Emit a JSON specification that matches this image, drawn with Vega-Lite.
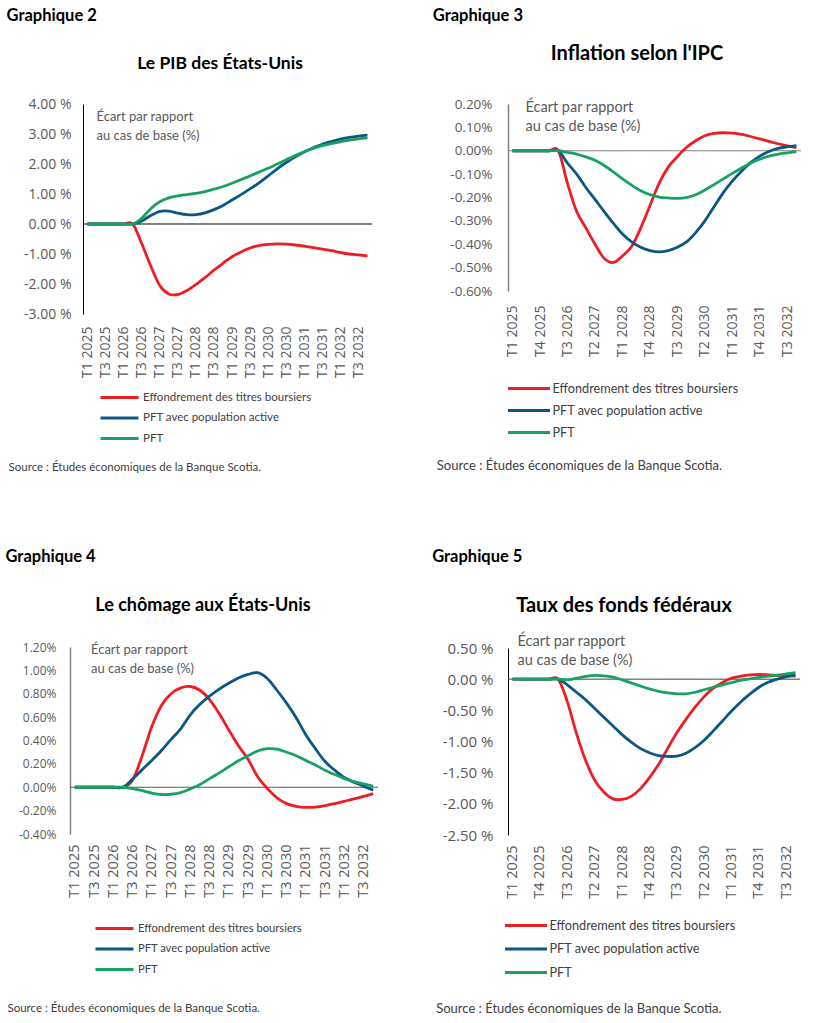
{
  "$schema": "https://vega.github.io/schema/vega-lite/v6.json",
  "background": "#ffffff",
  "padding": {"left": 5, "top": 7, "right": 5, "bottom": 5},
  "autosize": {"type": "pad"},
  "config": {
    "view": {"stroke": null},
    "font": "Lato",
    "axis": {"grid": false, "ticks": false, "labelFont": "Open Sans", "labelColor": "#595959", "domainColor": "#000000", "domainWidth": 1, "labelOverlap": false},
    "axisX": {"domain": false, "labelAngle": -90, "title": null},
    "axisY": {"titleAngle": 0, "titleAlign": "left", "titleBaseline": "top", "titleFont": "Lato", "titleFontWeight": "normal", "titleColor": "#595959", "titleLineHeight": 19, "labelOverlap": false},
    "legend": {"title": null, "labelFont": "Lato", "labelColor": "#404040", "labelOffset": 12, "labelLimit": 400},
    "title": {"font": "Lato", "color": "#000000"},
    "line": {"strokeWidth": 2.8, "interpolate": "cardinal"}
  },
  "datasets": {
    "pib": [
      {"q": "T1 2025", "a": 0, "b": 0, "c": 0},
      {"q": "T2 2025", "a": 0, "b": 0, "c": 0},
      {"q": "T3 2025", "a": 0, "b": 0, "c": 0},
      {"q": "T4 2025", "a": 0, "b": 0, "c": 0},
      {"q": "T1 2026", "a": 0, "b": 0, "c": 0},
      {"q": "T2 2026", "a": 0, "b": 0, "c": 0},
      {"q": "T3 2026", "a": -0.65, "b": 0.10, "c": 0.19},
      {"q": "T4 2026", "a": -1.40, "b": 0.28, "c": 0.51},
      {"q": "T1 2027", "a": -2.05, "b": 0.42, "c": 0.74},
      {"q": "T2 2027", "a": -2.33, "b": 0.43, "c": 0.87},
      {"q": "T3 2027", "a": -2.35, "b": 0.36, "c": 0.94},
      {"q": "T4 2027", "a": -2.22, "b": 0.31, "c": 0.98},
      {"q": "T1 2028", "a": -2.02, "b": 0.31, "c": 1.02},
      {"q": "T2 2028", "a": -1.79, "b": 0.37, "c": 1.08},
      {"q": "T3 2028", "a": -1.54, "b": 0.48, "c": 1.16},
      {"q": "T4 2028", "a": -1.31, "b": 0.62, "c": 1.25},
      {"q": "T1 2029", "a": -1.09, "b": 0.80, "c": 1.36},
      {"q": "T2 2029", "a": -0.93, "b": 0.98, "c": 1.48},
      {"q": "T3 2029", "a": -0.80, "b": 1.17, "c": 1.60},
      {"q": "T4 2029", "a": -0.72, "b": 1.37, "c": 1.73},
      {"q": "T1 2030", "a": -0.68, "b": 1.60, "c": 1.86},
      {"q": "T2 2030", "a": -0.66, "b": 1.84, "c": 2.00},
      {"q": "T3 2030", "a": -0.67, "b": 2.05, "c": 2.14},
      {"q": "T4 2030", "a": -0.70, "b": 2.24, "c": 2.28},
      {"q": "T1 2031", "a": -0.74, "b": 2.40, "c": 2.41},
      {"q": "T2 2031", "a": -0.79, "b": 2.54, "c": 2.52},
      {"q": "T3 2031", "a": -0.84, "b": 2.66, "c": 2.61},
      {"q": "T4 2031", "a": -0.89, "b": 2.75, "c": 2.68},
      {"q": "T1 2032", "a": -0.95, "b": 2.83, "c": 2.74},
      {"q": "T2 2032", "a": -1.00, "b": 2.89, "c": 2.80},
      {"q": "T3 2032", "a": -1.03, "b": 2.93, "c": 2.84},
      {"q": "T4 2032", "a": -1.06, "b": 2.96, "c": 2.87}
    ],
    "ipc": [
      {"q": "T1 2025", "a": 0, "b": 0, "c": 0},
      {"q": "T2 2025", "a": 0, "b": 0, "c": 0},
      {"q": "T3 2025", "a": 0, "b": 0, "c": 0},
      {"q": "T4 2025", "a": 0, "b": 0, "c": 0},
      {"q": "T1 2026", "a": 0, "b": 0, "c": 0},
      {"q": "T2 2026", "a": 0, "b": 0, "c": 0},
      {"q": "T3 2026", "a": -0.14, "b": -0.053, "c": -0.007},
      {"q": "T4 2026", "a": -0.26, "b": -0.10, "c": -0.014},
      {"q": "T1 2027", "a": -0.33, "b": -0.157, "c": -0.026},
      {"q": "T2 2027", "a": -0.40, "b": -0.208, "c": -0.041},
      {"q": "T3 2027", "a": -0.46, "b": -0.26, "c": -0.063},
      {"q": "T4 2027", "a": -0.478, "b": -0.31, "c": -0.09},
      {"q": "T1 2028", "a": -0.45, "b": -0.356, "c": -0.12},
      {"q": "T2 2028", "a": -0.41, "b": -0.39, "c": -0.147},
      {"q": "T3 2028", "a": -0.33, "b": -0.413, "c": -0.171},
      {"q": "T4 2028", "a": -0.235, "b": -0.427, "c": -0.188},
      {"q": "T1 2029", "a": -0.14, "b": -0.433, "c": -0.198},
      {"q": "T2 2029", "a": -0.07, "b": -0.427, "c": -0.202},
      {"q": "T3 2029", "a": -0.025, "b": -0.413, "c": -0.204},
      {"q": "T4 2029", "a": 0.015, "b": -0.39, "c": -0.200},
      {"q": "T1 2030", "a": 0.043, "b": -0.35, "c": -0.188},
      {"q": "T2 2030", "a": 0.064, "b": -0.30, "c": -0.168},
      {"q": "T3 2030", "a": 0.074, "b": -0.24, "c": -0.145},
      {"q": "T4 2030", "a": 0.077, "b": -0.18, "c": -0.121},
      {"q": "T1 2031", "a": 0.075, "b": -0.13, "c": -0.097},
      {"q": "T2 2031", "a": 0.070, "b": -0.088, "c": -0.074},
      {"q": "T3 2031", "a": 0.061, "b": -0.051, "c": -0.053},
      {"q": "T4 2031", "a": 0.051, "b": -0.023, "c": -0.036},
      {"q": "T1 2032", "a": 0.040, "b": -0.003, "c": -0.023},
      {"q": "T2 2032", "a": 0.030, "b": 0.010, "c": -0.014},
      {"q": "T3 2032", "a": 0.021, "b": 0.017, "c": -0.009},
      {"q": "T4 2032", "a": 0.013, "b": 0.022, "c": -0.004}
    ],
    "chomage": [
      {"q": "T1 2025", "a": 0, "b": 0, "c": 0},
      {"q": "T2 2025", "a": 0, "b": 0, "c": 0},
      {"q": "T3 2025", "a": 0, "b": 0, "c": 0},
      {"q": "T4 2025", "a": 0, "b": 0, "c": 0},
      {"q": "T1 2026", "a": 0, "b": 0, "c": 0},
      {"q": "T2 2026", "a": 0, "b": 0, "c": 0},
      {"q": "T3 2026", "a": 0.06, "b": 0.07, "c": -0.011},
      {"q": "T4 2026", "a": 0.27, "b": 0.15, "c": -0.029},
      {"q": "T1 2027", "a": 0.52, "b": 0.23, "c": -0.05},
      {"q": "T2 2027", "a": 0.70, "b": 0.315, "c": -0.062},
      {"q": "T3 2027", "a": 0.80, "b": 0.41, "c": -0.06},
      {"q": "T4 2027", "a": 0.85, "b": 0.50, "c": -0.046},
      {"q": "T1 2028", "a": 0.862, "b": 0.62, "c": -0.014},
      {"q": "T2 2028", "a": 0.83, "b": 0.71, "c": 0.023},
      {"q": "T3 2028", "a": 0.75, "b": 0.78, "c": 0.074},
      {"q": "T4 2028", "a": 0.63, "b": 0.84, "c": 0.123},
      {"q": "T1 2029", "a": 0.49, "b": 0.89, "c": 0.175},
      {"q": "T2 2029", "a": 0.355, "b": 0.935, "c": 0.226},
      {"q": "T3 2029", "a": 0.24, "b": 0.965, "c": 0.27},
      {"q": "T4 2029", "a": 0.09, "b": 0.98, "c": 0.31},
      {"q": "T1 2030", "a": -0.01, "b": 0.93, "c": 0.33},
      {"q": "T2 2030", "a": -0.09, "b": 0.83, "c": 0.326},
      {"q": "T3 2030", "a": -0.14, "b": 0.72, "c": 0.30},
      {"q": "T4 2030", "a": -0.163, "b": 0.595, "c": 0.27},
      {"q": "T1 2031", "a": -0.172, "b": 0.45, "c": 0.23},
      {"q": "T2 2031", "a": -0.17, "b": 0.33, "c": 0.19},
      {"q": "T3 2031", "a": -0.158, "b": 0.22, "c": 0.146},
      {"q": "T4 2031", "a": -0.14, "b": 0.146, "c": 0.109},
      {"q": "T1 2032", "a": -0.12, "b": 0.083, "c": 0.074},
      {"q": "T2 2032", "a": -0.10, "b": 0.043, "c": 0.049},
      {"q": "T3 2032", "a": -0.078, "b": 0.01, "c": 0.029},
      {"q": "T4 2032", "a": -0.055, "b": -0.025, "c": 0.009}
    ],
    "fed": [
      {"q": "T1 2025", "a": 0, "b": 0, "c": 0},
      {"q": "T2 2025", "a": 0, "b": 0, "c": 0},
      {"q": "T3 2025", "a": 0, "b": 0, "c": 0},
      {"q": "T4 2025", "a": 0, "b": 0, "c": 0},
      {"q": "T1 2026", "a": 0, "b": 0, "c": 0},
      {"q": "T2 2026", "a": 0, "b": 0, "c": 0},
      {"q": "T3 2026", "a": -0.36, "b": -0.09, "c": -0.01},
      {"q": "T4 2026", "a": -0.87, "b": -0.21, "c": 0.016},
      {"q": "T1 2027", "a": -1.30, "b": -0.33, "c": 0.043},
      {"q": "T2 2027", "a": -1.62, "b": -0.47, "c": 0.06},
      {"q": "T3 2027", "a": -1.81, "b": -0.61, "c": 0.054},
      {"q": "T4 2027", "a": -1.92, "b": -0.75, "c": 0.032},
      {"q": "T1 2028", "a": -1.93, "b": -0.89, "c": -0.01},
      {"q": "T2 2028", "a": -1.88, "b": -1.01, "c": -0.06},
      {"q": "T3 2028", "a": -1.76, "b": -1.11, "c": -0.11},
      {"q": "T4 2028", "a": -1.58, "b": -1.18, "c": -0.155},
      {"q": "T1 2029", "a": -1.37, "b": -1.225, "c": -0.195},
      {"q": "T2 2029", "a": -1.11, "b": -1.24, "c": -0.22},
      {"q": "T3 2029", "a": -0.86, "b": -1.235, "c": -0.235},
      {"q": "T4 2029", "a": -0.645, "b": -1.19, "c": -0.235},
      {"q": "T1 2030", "a": -0.45, "b": -1.10, "c": -0.21},
      {"q": "T2 2030", "a": -0.28, "b": -0.98, "c": -0.17},
      {"q": "T3 2030", "a": -0.145, "b": -0.83, "c": -0.13},
      {"q": "T4 2030", "a": -0.054, "b": -0.67, "c": -0.09},
      {"q": "T1 2031", "a": 0.016, "b": -0.51, "c": -0.055},
      {"q": "T2 2031", "a": 0.048, "b": -0.365, "c": -0.02},
      {"q": "T3 2031", "a": 0.07, "b": -0.24, "c": 0.005},
      {"q": "T4 2031", "a": 0.075, "b": -0.13, "c": 0.03},
      {"q": "T1 2032", "a": 0.07, "b": -0.05, "c": 0.048},
      {"q": "T2 2032", "a": 0.062, "b": 0.0, "c": 0.065},
      {"q": "T3 2032", "a": 0.055, "b": 0.04, "c": 0.085},
      {"q": "T4 2032", "a": 0.05, "b": 0.07, "c": 0.105}
    ]
  },
  "resolve": {"scale": {"color": "independent"}, "legend": {"color": "independent"}},
  "columns": 2,
  "align": "none",
  "spacing": {"row": 74, "column": 53},
  "concat": [
    {
      "title": {"text": "Graphique 2", "anchor": "start", "frame": "bounds", "fontSize": 16.5, "fontWeight": "bold", "dx": -2, "offset": 30.5},
      "resolve": {"scale": {"color": "independent"}, "legend": {"color": "independent"}},
      "vconcat": [
        {
          "title": {"text": "Source : Études économiques de la Banque Scotia.", "orient": "bottom", "anchor": "start", "frame": "bounds", "fontSize": 11.5, "fontWeight": "normal", "color": "#404040", "dx": -15, "offset": 17},
          "resolve": {"scale": {"color": "independent"}, "legend": {"color": "independent"}},
          "vconcat": [
            {
              "width": 302,
              "height": 210,
              "title": {"text": "Le PIB des États-Unis", "anchor": "middle", "frame": "group", "fontSize": 17.5, "fontWeight": "bold", "dx": -1, "offset": 25},
              "layer": [
                {
                  "data": {"values": [{"valeur": 0, "q": "T1 2025", "q2": "T4 2032"}]},
                  "mark": {"type": "rule", "color": "#000000", "strokeWidth": 1, "xOffset": -4.5, "x2Offset": 4.5},
                  "encoding": {
                    "x": {"field": "q", "type": "ordinal"},
                    "x2": {"field": "q2"},
                    "y": {"field": "valeur", "type": "quantitative",
                      "axis": {"values": [-3, -2, -1, 0, 1, 2, 3, 4], "labelOverlap": false, "offset": -13, "labelExpr": "replace(format(datum.value, '.2f'), '\u2212', '-') + ' %'", "labelFont": "Open Sans", "labelPadding": 12, "labelFontSize": 14, "domainColor": "#000000",
                        "title": ["Écart par rapport", "au cas de base (%)"], "titleX": 13, "titleY": 6, "titleFontSize": 13}}
                  }
                },
                {
                  "data": {"name": "pib"},
                  "transform": [{"fold": ["a", "b", "c"], "as": ["serie", "valeur"]}],
                  "mark": {"type": "line"},
                  "encoding": {
                    "x": {"field": "q", "type": "ordinal",
                      "scale": {"type": "point", "padding": 0.5, "rangeMin": 13, "domain": ["T1 2025", "T2 2025", "T3 2025", "T4 2025", "T1 2026", "T2 2026", "T3 2026", "T4 2026", "T1 2027", "T2 2027", "T3 2027", "T4 2027", "T1 2028", "T2 2028", "T3 2028", "T4 2028", "T1 2029", "T2 2029", "T3 2029", "T4 2029", "T1 2030", "T2 2030", "T3 2030", "T4 2030", "T1 2031", "T2 2031", "T3 2031", "T4 2031", "T1 2032", "T2 2032", "T3 2032", "T4 2032"]},
                      "axis": {"values": ["T1 2025", "T3 2025", "T1 2026", "T3 2026", "T1 2027", "T3 2027", "T1 2028", "T3 2028", "T1 2029", "T3 2029", "T1 2030", "T3 2030", "T1 2031", "T3 2031", "T1 2032", "T3 2032"], "labelFont": "Open Sans", "labelPadding": 12, "labelFontSize": 14}},
                    "y": {"field": "valeur", "type": "quantitative", "scale": {"domain": [-3, 4], "nice": false, "zero": false},
                      "axis": {"values": [-3, -2, -1, 0, 1, 2, 3, 4], "labelOverlap": false, "offset": -13, "labelExpr": "replace(format(datum.value, '.2f'), '\u2212', '-') + ' %'", "labelFont": "Open Sans", "labelPadding": 12, "labelFontSize": 14, "domainColor": "#000000",
                        "title": ["Écart par rapport", "au cas de base (%)"], "titleX": 13, "titleY": 6, "titleFontSize": 13}},
                    "color": {"field": "serie", "type": "nominal", "scale": {"domain": ["a", "b", "c"], "range": ["#EE1D23", "#0A5783", "#17A263"]},
                      "legend": {"orient": "none", "legendX": 38, "legendY": 282, "symbolType": "M-1.9,0H1.9", "symbolSize": 400, "symbolStrokeWidth": 3, "labelFontSize": 11.5, "rowPadding": 2.5,
                        "labelExpr": "datum.label === 'a' ? 'Effondrement des titres boursiers' : datum.label === 'b' ? 'PFT avec population active' : 'PFT'"}}
                  }
                }
              ]
            }
          ]
        }
      ]
    },
    {
      "title": {"text": "Graphique 3", "anchor": "start", "frame": "bounds", "fontSize": 16.5, "fontWeight": "bold", "dx": -4, "offset": 19.6},
      "resolve": {"scale": {"color": "independent"}, "legend": {"color": "independent"}},
      "vconcat": [
        {
          "title": {"text": "Source : Études économiques de la Banque Scotia.", "orient": "bottom", "anchor": "start", "frame": "bounds", "fontSize": 13, "fontWeight": "normal", "color": "#404040", "dx": -13, "offset": 19.5},
          "resolve": {"scale": {"color": "independent"}, "legend": {"color": "independent"}},
          "vconcat": [
            {
              "width": 293,
              "height": 187,
              "title": {"text": "Inflation selon l'IPC", "anchor": "middle", "frame": "group", "fontSize": 20, "fontWeight": "bold", "dx": -17.5, "offset": 33},
              "layer": [
                {
                  "data": {"values": [{"valeur": 0}]},
                  "mark": {"type": "rule", "color": "#808080", "strokeWidth": 1.2},
                  "encoding": {"y": {"field": "valeur", "type": "quantitative",
                    "axis": {"values": [-0.6, -0.5, -0.4, -0.3, -0.2, -0.1, 0, 0.1, 0.2], "labelOverlap": false, "labelExpr": "replace(format(datum.value, '.2f'), '\u2212', '-') + '%'", "labelFont": "Open Sans", "labelPadding": 16, "labelFontSize": 13.5, "domainColor": "#808080", "domainWidth": 1.5,
                      "title": ["Écart par rapport", "au cas de base (%)"], "titleX": 17, "titleY": -4, "titleFontSize": 14.5}}}
                },
                {
                  "data": {"name": "ipc"},
                  "transform": [{"fold": ["a", "b", "c"], "as": ["serie", "valeur"]}],
                  "mark": {"type": "line"},
                  "encoding": {
                    "x": {"field": "q", "type": "ordinal", "sort": null, "scale": {"type": "point", "padding": 0.5},
                      "axis": {"values": ["T1 2025", "T4 2025", "T3 2026", "T2 2027", "T1 2028", "T4 2028", "T3 2029", "T2 2030", "T1 2031", "T4 2031", "T3 2032"], "labelFont": "Open Sans", "labelPadding": 14, "labelFontSize": 14}},
                    "y": {"field": "valeur", "type": "quantitative", "scale": {"domain": [-0.6, 0.2], "nice": false, "zero": false},
                      "axis": {"values": [-0.6, -0.5, -0.4, -0.3, -0.2, -0.1, 0, 0.1, 0.2], "labelOverlap": false, "labelExpr": "replace(format(datum.value, '.2f'), '\u2212', '-') + '%'", "labelFont": "Open Sans", "labelPadding": 16, "labelFontSize": 13.5, "domainColor": "#808080", "domainWidth": 1.5,
                        "title": ["Écart par rapport", "au cas de base (%)"], "titleX": 17, "titleY": -4, "titleFontSize": 14.5}},
                    "color": {"field": "serie", "type": "nominal", "scale": {"domain": ["a", "b", "c"], "range": ["#EE1D23", "#0A5783", "#17A263"]},
                      "legend": {"orient": "none", "legendX": 9.5, "legendY": 273, "symbolType": "M-2.1,0H2.1", "symbolSize": 400, "symbolStrokeWidth": 3, "labelFontSize": 12.7, "rowPadding": 3,
                        "labelExpr": "datum.label === 'a' ? 'Effondrement des titres boursiers' : datum.label === 'b' ? 'PFT avec population active' : 'PFT'"}}
                  }
                }
              ]
            }
          ]
        }
      ]
    },
    {
      "title": {"text": "Graphique 4", "anchor": "start", "frame": "bounds", "fontSize": 16.5, "fontWeight": "bold", "dx": -2, "offset": 31.7},
      "resolve": {"scale": {"color": "independent"}, "legend": {"color": "independent"}},
      "vconcat": [
        {
          "title": {"text": "Source : Études économiques de la Banque Scotia.", "orient": "bottom", "anchor": "start", "frame": "bounds", "fontSize": 11.5, "fontWeight": "normal", "color": "#404040", "dx": -11, "offset": 27},
          "resolve": {"scale": {"color": "independent"}, "legend": {"color": "independent"}},
          "vconcat": [
            {
              "width": 308,
              "height": 187,
              "title": {"text": "Le chômage aux États-Unis", "anchor": "middle", "frame": "group", "fontSize": 18, "fontWeight": "bold", "dx": -21, "offset": 26},
              "layer": [
                {
                  "data": {"values": [{"valeur": 0}]},
                  "mark": {"type": "rule", "color": "#595959", "strokeWidth": 1},
                  "encoding": {"y": {"field": "valeur", "type": "quantitative",
                    "axis": {"values": [-0.4, -0.2, 0, 0.2, 0.4, 0.6, 0.8, 1.0, 1.2], "labelOverlap": false, "labelExpr": "replace(format(datum.value, '.2f'), '\u2212', '-') + '%'", "labelFont": "Open Sans", "labelPadding": 14, "labelFontSize": 12, "domainColor": "#808080", "domainWidth": 1.5,
                      "title": ["Écart par rapport", "au cas de base (%)"], "titleX": 20.5, "titleY": -4, "titleFontSize": 13}}}
                },
                {
                  "data": {"name": "chomage"},
                  "transform": [{"fold": ["a", "b", "c"], "as": ["serie", "valeur"]}],
                  "mark": {"type": "line"},
                  "encoding": {
                    "x": {"field": "q", "type": "ordinal", "sort": null, "scale": {"type": "point", "padding": 0.5},
                      "axis": {"values": ["T1 2025", "T3 2025", "T1 2026", "T3 2026", "T1 2027", "T3 2027", "T1 2028", "T3 2028", "T1 2029", "T3 2029", "T1 2030", "T3 2030", "T1 2031", "T3 2031", "T1 2032", "T3 2032"], "labelFont": "Open Sans", "labelPadding": 10, "labelFontSize": 14.5}},
                    "y": {"field": "valeur", "type": "quantitative", "scale": {"domain": [-0.4, 1.2], "nice": false, "zero": false},
                      "axis": {"values": [-0.4, -0.2, 0, 0.2, 0.4, 0.6, 0.8, 1.0, 1.2], "labelOverlap": false, "labelExpr": "replace(format(datum.value, '.2f'), '\u2212', '-') + '%'", "labelFont": "Open Sans", "labelPadding": 14, "labelFontSize": 12, "domainColor": "#808080", "domainWidth": 1.5,
                        "title": ["Écart par rapport", "au cas de base (%)"], "titleX": 20.5, "titleY": -4, "titleFontSize": 13}},
                    "color": {"field": "serie", "type": "nominal", "scale": {"domain": ["a", "b", "c"], "range": ["#EE1D23", "#0A5783", "#17A263"]},
                      "legend": {"orient": "none", "legendX": 33, "legendY": 270, "symbolType": "M-1.9,0H1.9", "symbolSize": 400, "symbolStrokeWidth": 3, "labelFontSize": 11.2, "rowPadding": 2.5,
                        "labelExpr": "datum.label === 'a' ? 'Effondrement des titres boursiers' : datum.label === 'b' ? 'PFT avec population active' : 'PFT'"}}
                  }
                }
              ]
            }
          ]
        }
      ]
    },
    {
      "title": {"text": "Graphique 5", "anchor": "start", "frame": "bounds", "fontSize": 16.5, "fontWeight": "bold", "dx": -4, "offset": 30.9},
      "resolve": {"scale": {"color": "independent"}, "legend": {"color": "independent"}},
      "vconcat": [
        {
          "title": {"text": "Source : Études économiques de la Banque Scotia.", "orient": "bottom", "anchor": "start", "frame": "bounds", "fontSize": 13, "fontWeight": "normal", "color": "#404040", "dx": -6, "offset": 22.5},
          "resolve": {"scale": {"color": "independent"}, "legend": {"color": "independent"}},
          "vconcat": [
            {
              "width": 292,
              "height": 187,
              "title": {"text": "Taux des fonds fédéraux", "anchor": "middle", "frame": "group", "fontSize": 20, "fontWeight": "bold", "dx": -30, "offset": 17},
              "layer": [
                {
                  "data": {"values": [{"valeur": 0}]},
                  "mark": {"type": "rule", "color": "#404040", "strokeWidth": 1},
                  "encoding": {"y": {"field": "valeur", "type": "quantitative",
                    "axis": {"values": [-2.5, -2, -1.5, -1, -0.5, 0, 0.5], "labelOverlap": false, "labelExpr": "replace(format(datum.value, '.2f'), '\u2212', '-') + ' %'", "labelFont": "Open Sans", "labelPadding": 15, "labelFontSize": 15, "domainColor": "#000000",
                      "title": ["Écart par rapport", "au cas de base (%)"], "titleX": 9, "titleY": -14, "titleFontSize": 14.5}}}
                },
                {
                  "data": {"name": "fed"},
                  "transform": [{"fold": ["a", "b", "c"], "as": ["serie", "valeur"]}],
                  "mark": {"type": "line"},
                  "encoding": {
                    "x": {"field": "q", "type": "ordinal", "sort": null, "scale": {"type": "point", "padding": 0.5},
                      "axis": {"values": ["T1 2025", "T4 2025", "T3 2026", "T2 2027", "T1 2028", "T4 2028", "T3 2029", "T2 2030", "T1 2031", "T4 2031", "T3 2032"], "labelFont": "Open Sans", "labelPadding": 10, "labelFontSize": 14.5}},
                    "y": {"field": "valeur", "type": "quantitative", "scale": {"domain": [-2.5, 0.5], "nice": false, "zero": false},
                      "axis": {"values": [-2.5, -2, -1.5, -1, -0.5, 0, 0.5], "labelOverlap": false, "labelExpr": "replace(format(datum.value, '.2f'), '\u2212', '-') + ' %'", "labelFont": "Open Sans", "labelPadding": 15, "labelFontSize": 15, "domainColor": "#000000",
                        "title": ["Écart par rapport", "au cas de base (%)"], "titleX": 9, "titleY": -14, "titleFontSize": 14.5}},
                    "color": {"field": "serie", "type": "nominal", "scale": {"domain": ["a", "b", "c"], "range": ["#EE1D23", "#0A5783", "#17A263"]},
                      "legend": {"orient": "none", "legendX": 6.5, "legendY": 266, "symbolType": "M-2.1,0H2.1", "symbolSize": 400, "symbolStrokeWidth": 3, "labelFontSize": 12.7, "rowPadding": 4.5,
                        "labelExpr": "datum.label === 'a' ? 'Effondrement des titres boursiers' : datum.label === 'b' ? 'PFT avec population active' : 'PFT'"}}
                  }
                }
              ]
            }
          ]
        }
      ]
    }
  ]
}
